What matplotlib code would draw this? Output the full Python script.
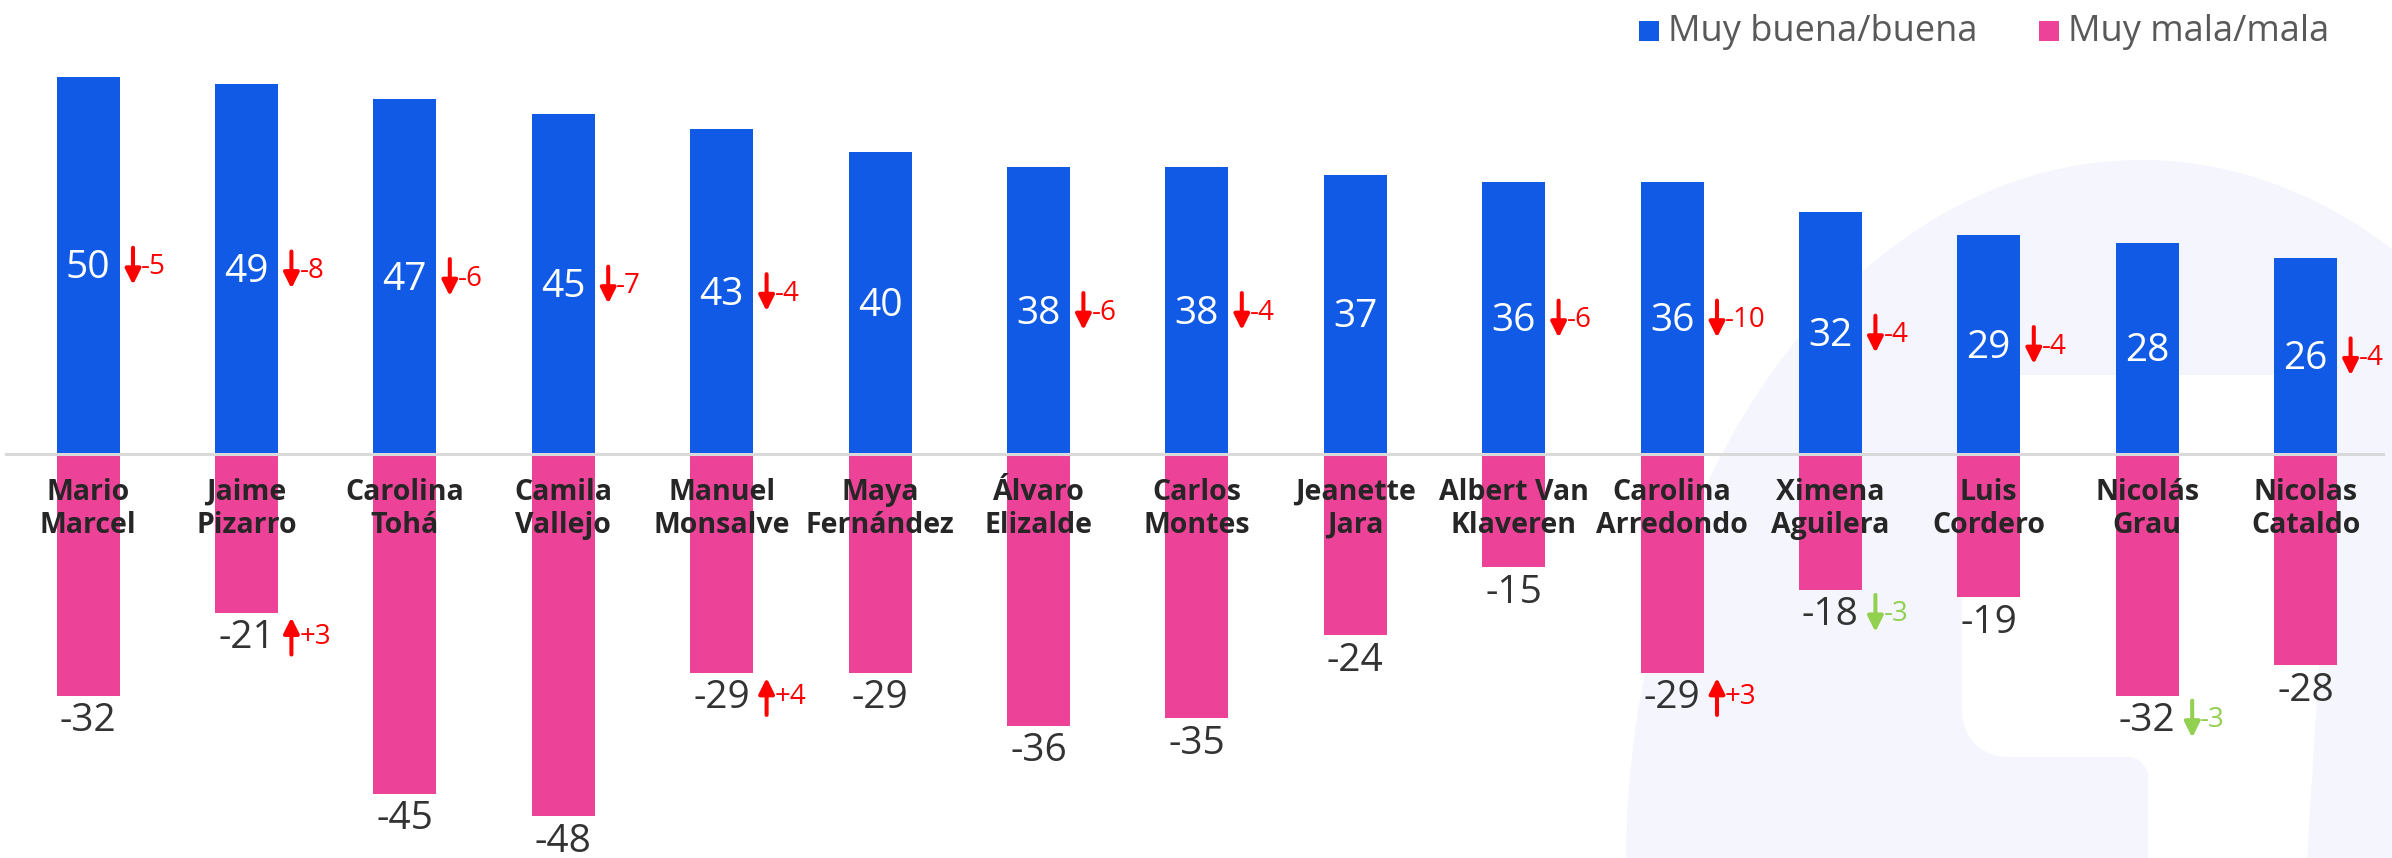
import numpy as np
import matplotlib
matplotlib.use("Agg")
import matplotlib.pyplot as plt
from matplotlib.patches import Ellipse, Rectangle, Polygon, FancyArrowPatch, ArrowStyle

# ---------------- data ----------------
names = ["Mario\nMarcel", "Jaime\nPizarro", "Carolina\nTohá", "Camila\nVallejo",
         "Manuel\nMonsalve", "Maya\nFernández", "Álvaro\nElizalde", "Carlos\nMontes",
         "Jeanette\nJara", "Albert Van\nKlaveren", "Carolina\nArredondo",
         "Ximena\nAguilera", "Luis\nCordero", "Nicolás\nGrau", "Nicolas\nCataldo"]
buena = [50, 49, 47, 45, 43, 40, 38, 38, 37, 36, 36, 32, 29, 28, 26]
mala = [-32, -21, -45, -48, -29, -29, -36, -35, -24, -15, -29, -18, -19, -32, -28]
cambio_buena = [-5, -8, -6, -7, -4, None, -6, -4, None, -6, -10, -4, -4, None, -4]
cambio_mala = [None, 3, None, None, 4, None, None, None, None, None, 3, -3, None, -3, None]
legend_labels = ["Muy buena/buena", "Muy mala/mala"]

# ---------------- style ----------------
BLUE = "#105AE6"
PINK = "#EC4399"
RED = "#FF0000"
GREEN = "#92D050"
LAV = "#F4F5FD"
VAL_FONT = ["Open Sans", "DejaVu Sans"]
NAME_FONT = ["Open Sans", "DejaVu Sans"]

W, H = 2392, 858
fig = plt.figure(figsize=(W / 100, H / 100), dpi=100)

# background watermark (pixel coordinates, y downwards)
bg = fig.add_axes([0, 0, 1, 1])
bg.set_xlim(0, W)
bg.set_ylim(H, 0)
bg.axis("off")
bg.add_patch(Ellipse((2141, 862), 1030, 1404, color=LAV, lw=0))

t = np.linspace(0, np.pi / 2, 12)
pts = [(1962, 375), (2337, 375), (2307, 860), (2148, 860)]
pts += [(2128 + 20 * np.cos(a), 777 - 20 * np.sin(a)) for a in t]
pts += [(2007 - 45 * np.sin(a), 712 + 45 * np.cos(a)) for a in t]
bg.add_patch(Polygon(pts, closed=True, color="white", lw=0))

# legend
for k, (lab, col) in enumerate(zip(legend_labels, [BLUE, PINK])):
    x0 = [1639, 2039][k]
    bg.add_patch(Rectangle((x0, 21), 20, 20, color=col, lw=0))
    bg.text(x0 + 29, 41, lab, ha="left", va="baseline", fontsize=26,
            color="#595959", family=VAL_FONT)

# main axes
ax = fig.add_axes([0, 0, 1, 1])
ax.patch.set_alpha(0)
ax.axis("off")
X0, DX, Y0, SY = 88, 158.4, 454, 7.55
ax.set_xlim(-X0 / DX, (W - X0) / DX)
ax.set_ylim((Y0 - H) / SY, Y0 / SY)
px = 1 / DX   # data units per pixel (x)
py = 1 / SY   # data units per pixel (y)

xs = list(range(len(names)))
bw = 63 * px
ax.bar(xs, buena, width=bw, color=BLUE, zorder=2)
ax.bar(xs, mala, width=bw, color=PINK, zorder=2)
ax.axhline(0, xmin=6 / W, xmax=2383 / W, color="#D9D9D9", lw=2.2, zorder=3)


def draw_change(i, yb, c, col):
    xc = i + 45 * px
    yc = yb + 12 * py
    half = 18.5 * py
    if c < 0:
        a, b = yc + half, yc - half
    else:
        a, b = yc - half, yc + half
    arr = FancyArrowPatch((xc, a), (xc, b),
                          arrowstyle=ArrowStyle("-|>", head_length=0.62, head_width=0.31),
                          mutation_scale=15, color=col, lw=2.9,
                          shrinkA=0, shrinkB=0, zorder=4)
    ax.add_patch(arr)
    ax.text(i + 53 * px, yb + 4 * py, f"{c:+d}", ha="left", va="baseline",
            fontsize=20, color=col, family=VAL_FONT, zorder=4)


for i, v in enumerate(buena):
    yb = v / 2 - 13 * py
    ax.text(i, yb, str(v), ha="center", va="baseline", fontsize=28,
            color="white", family=VAL_FONT, zorder=4)
    c = cambio_buena[i]
    if c is not None:
        draw_change(i, yb, c, RED if c < 0 else GREEN)

for i, v in enumerate(mala):
    yb = v - 35.5 * py
    ax.text(i, yb, str(v), ha="center", va="baseline", fontsize=28,
            color="#333333", family=VAL_FONT, zorder=4)
    c = cambio_mala[i]
    if c is not None:
        draw_change(i, yb, c, RED if c > 0 else GREEN)

for i, n in enumerate(names):
    l1, l2 = n.split("\n")
    ax.text(i, -46 * py, l1, ha="center", va="baseline", fontsize=20.5,
            fontweight="bold", color="#262626", family=NAME_FONT, zorder=5)
    ax.text(i, -79 * py, l2, ha="center", va="baseline", fontsize=20.5,
            fontweight="bold", color="#262626", family=NAME_FONT, zorder=5)

fig.savefig("out.png", dpi=100)
